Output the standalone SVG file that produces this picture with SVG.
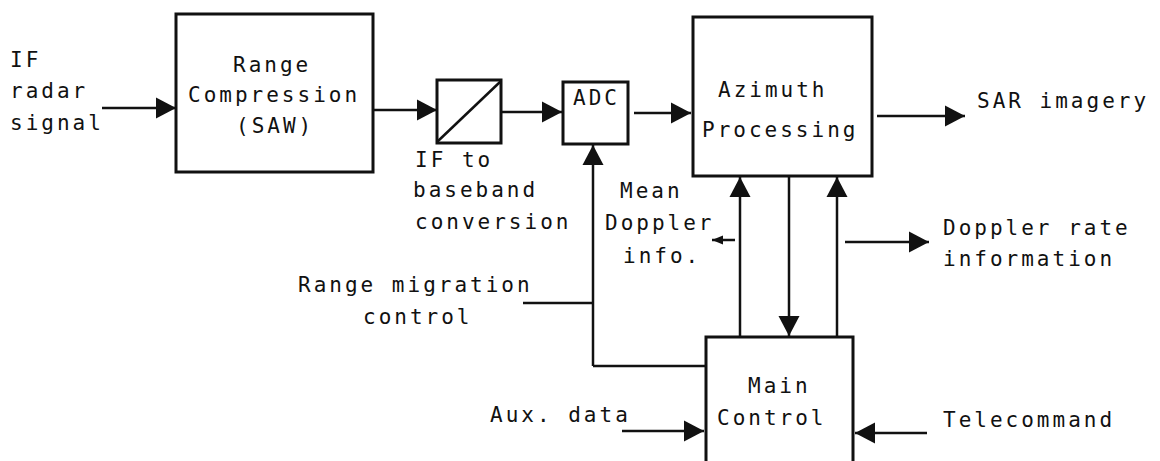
<svg xmlns="http://www.w3.org/2000/svg" width="1160" height="461" viewBox="0 0 1160 461">
<style>
text{font-family:"DejaVu Sans Mono","Liberation Mono",monospace;font-size:21px;letter-spacing:3px;fill:#111}
.box{fill:none;stroke:#111;stroke-width:3}
.ln{fill:none;stroke:#111;stroke-width:2.5}
</style>
<defs>
<marker id="ah" markerUnits="userSpaceOnUse" markerWidth="24" markerHeight="24" viewBox="0 0 24 24" refX="20" refY="12" orient="auto">
<path d="M0,1.5 L20,12 L0,22.5 Z" fill="#111"/>
</marker>
<marker id="ahs" markerUnits="userSpaceOnUse" markerWidth="12" markerHeight="12" viewBox="0 0 12 12" refX="11" refY="6" orient="auto">
<path d="M0,1.5 L11,6 L0,10.5 Z" fill="#111"/>
</marker>
</defs>
<rect width="1160" height="461" fill="#fff"/>

<g id="in-label">
<text x="10" y="67">IF</text>
<text x="10" y="98">radar</text>
<text x="10" y="130">signal</text>
</g>

<g id="range-compression">
<rect class="box" x="176" y="14" width="197" height="158"/>
<text x="233" y="72">Range</text>
<text x="188" y="102">Compression</text>
<text x="236" y="133">(SAW)</text>
</g>

<g id="if-baseband">
<rect class="box" x="437" y="80" width="64" height="63"/>
<line class="ln" x1="437" y1="142" x2="501" y2="81"/>
<text x="415" y="167">IF to</text>
<text x="413" y="197">baseband</text>
<text x="415" y="229">conversion</text>
</g>

<g id="adc">
<rect class="box" x="563" y="82" width="65" height="62"/>
<text x="573" y="105">ADC</text>
</g>

<g id="azimuth">
<rect class="box" x="693" y="17" width="179" height="159"/>
<text x="718" y="97">Azimuth</text>
<text x="702" y="137">Processing</text>
</g>

<g id="main-control">
<path class="box" d="M706,470 L706,337 L853,337 L853,470"/>
<text x="748" y="393">Main</text>
<text x="717" y="425">Control</text>
</g>

<g id="labels">
<text x="977" y="108">SAR imagery</text>
<text x="620" y="198">Mean</text>
<text x="605" y="230">Doppler</text>
<text x="623" y="263">info.</text>
<text x="943" y="235">Doppler rate</text>
<text x="943" y="266">information</text>
<text x="298" y="292">Range migration</text>
<text x="363" y="324">control</text>
<text x="490" y="422">Aux. data</text>
<text x="943" y="427">Telecommand</text>
</g>

<g id="connectors">
<line class="ln" x1="102" y1="108" x2="176" y2="108" marker-end="url(#ah)"/>
<line class="ln" x1="374" y1="110" x2="437" y2="110" marker-end="url(#ah)"/>
<line class="ln" x1="502" y1="112" x2="562" y2="112" marker-end="url(#ah)"/>
<line class="ln" x1="634" y1="113" x2="691" y2="113" marker-end="url(#ah)"/>
<line class="ln" x1="877" y1="116" x2="965" y2="116" marker-end="url(#ah)"/>
<line class="ln" x1="593" y1="366" x2="593" y2="145" marker-end="url(#ah)"/>
<line class="ln" x1="593" y1="366" x2="706" y2="366"/>
<line class="ln" x1="523" y1="303" x2="593" y2="303"/>
<line class="ln" x1="740" y1="337" x2="740" y2="177" marker-end="url(#ah)"/>
<line class="ln" x1="789" y1="176" x2="789" y2="336" marker-end="url(#ah)"/>
<line class="ln" x1="837" y1="337" x2="837" y2="177" marker-end="url(#ah)"/>
<line class="ln" x1="735" y1="240" x2="712" y2="240" marker-end="url(#ahs)"/>
<line class="ln" x1="845" y1="242" x2="929" y2="242" marker-end="url(#ah)"/>
<line class="ln" x1="622" y1="431" x2="704" y2="431" marker-end="url(#ah)"/>
<line class="ln" x1="927" y1="433" x2="855" y2="433" marker-end="url(#ah)"/>
</g>
</svg>
